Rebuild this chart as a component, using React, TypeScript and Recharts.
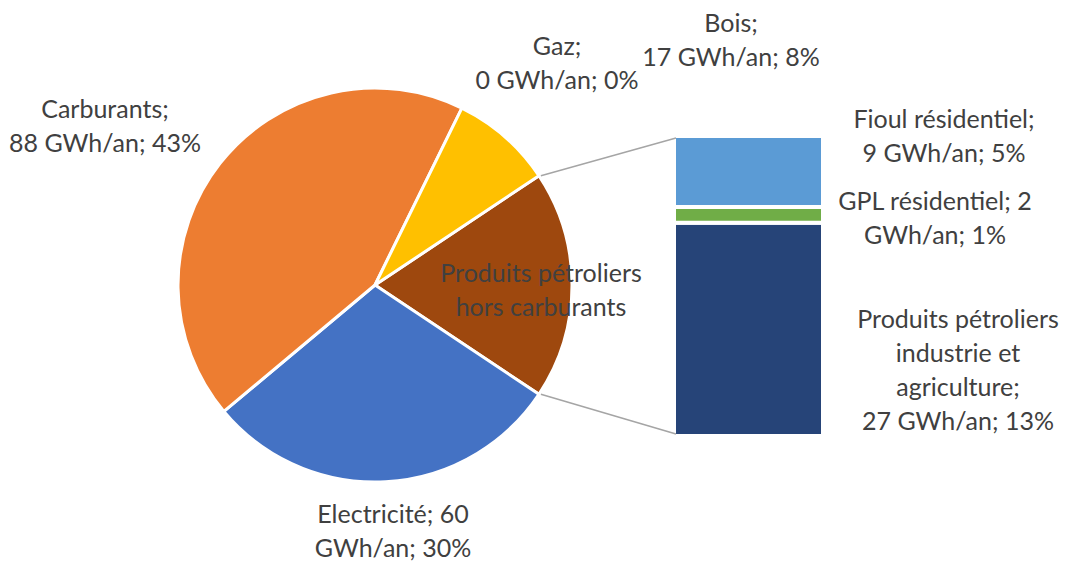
import { PieChart, Pie, Cell, BarChart, Bar, XAxis, YAxis } from 'recharts';

const W = 1079;
const H = 565;

// camembert principal (GWh/an)
const pieNames = ['Produits pétroliers hors carburants', 'Electricité', 'Carburants', 'Gaz', 'Bois'];
const pieValues = [38, 60, 88, 0, 17];
const pieColors = ['#9E480E', '#4472C4', '#ED7D31', '#A5A5A5', '#FFC000'];

// détail de la barre (bas -> haut)
const barKeys = ['industrie', 'gpl', 'fioul'];
const barValues = [27, 2, 9];
const barColors = ['#264478', '#70AD47', '#5B9BD5'];

const pieData = pieNames.map((name, i) => ({ name, value: pieValues[i] }));
const barRow: Record<string, number | string> = { name: 'detail' };
barKeys.forEach((k, i) => (barRow[k] = barValues[i]));
const barData = [barRow];

const total = pieValues.reduce((a, b) => a + b, 0);
const halfAngle = (pieValues[0] / total) * 180;

const CX = 375;
const CY = 285;
const R = 197;

const BAR_LEFT = 676;
const BAR_RIGHT = 821;
const BAR_TOP = 138;
const BAR_BOTTOM = 434;
const GAP = 4;

const font = 'Lato, "Noto Sans", sans-serif';
const textColor = '#404040';

const labels: { x: number; y: number; lines: string[] }[] = [
  { x: 105, y: 108, lines: ['Carburants;', '88 GWh/an; 43%'] },
  { x: 557, y: 45, lines: ['Gaz;', '0 GWh/an; 0%'] },
  { x: 731, y: 22, lines: ['Bois;', '17 GWh/an; 8%'] },
  { x: 944, y: 118, lines: ['Fioul résidentiel;', '9 GWh/an; 5%'] },
  { x: 935, y: 200, lines: ['GPL résidentiel; 2', 'GWh/an; 1%'] },
  { x: 958, y: 318, lines: ['Produits pétroliers', 'industrie et', 'agriculture;', '27 GWh/an; 13%'] },
  { x: 393, y: 513, lines: ['Electricité; 60', 'GWh/an; 30%'] },
  { x: 541, y: 272, lines: ['Produits pétroliers', 'hors carburants'] },
];

export default function App() {
  const rad = (halfAngle * Math.PI) / 180;
  const ex = CX + R * Math.cos(rad);
  const eyTop = CY - R * Math.sin(rad);
  const eyBot = CY + R * Math.sin(rad);

  return (
    <div style={{ position: 'absolute', left: 0, top: 0, width: W, height: H, background: '#fff' }}>
      <div style={{ position: 'absolute', left: 0, top: 0 }}>
        <PieChart width={W} height={H} margin={{ top: 0, right: 0, bottom: 0, left: 0 }}>
          <Pie
            data={pieData}
            dataKey="value"
            nameKey="name"
            cx={CX}
            cy={CY}
            outerRadius={R}
            startAngle={halfAngle}
            endAngle={halfAngle - 360}
            stroke="#ffffff"
            strokeWidth={3}
            isAnimationActive={false}
          >
            {pieData.map((d, i) => (
              <Cell key={d.name} fill={pieColors[i]} />
            ))}
          </Pie>
        </PieChart>
      </div>
      <div style={{ position: 'absolute', left: 0, top: 0 }}>
        <BarChart
          width={W}
          height={H}
          data={barData}
          barCategoryGap={0}
          margin={{
            top: BAR_TOP - GAP / 2,
            bottom: H - BAR_BOTTOM - GAP / 2,
            left: BAR_LEFT - GAP / 2,
            right: W - BAR_RIGHT - GAP / 2,
          }}
        >
          <XAxis dataKey="name" hide />
          <YAxis hide domain={[0, 38]} />
          {barKeys.map((k, i) => (
            <Bar
              key={k}
              dataKey={k}
              stackId="a"
              fill={barColors[i]}
              stroke="#ffffff"
              strokeWidth={GAP}
              isAnimationActive={false}
            />
          ))}
        </BarChart>
      </div>
      <svg width={W} height={H} style={{ position: 'absolute', left: 0, top: 0, pointerEvents: 'none' }}>
        <line x1={ex + 2} y1={eyTop} x2={BAR_LEFT} y2={BAR_TOP} stroke="#A5A5A5" strokeWidth={1.5} />
        <line x1={ex + 2} y1={eyBot} x2={BAR_LEFT} y2={BAR_BOTTOM} stroke="#A5A5A5" strokeWidth={1.5} />
        {labels.map((l, i) => (
          <text
            key={i}
            x={l.x}
            y={l.y}
            textAnchor="middle"
            dominantBaseline="central"
            fontFamily={font}
            fontSize={25}
            fill={textColor}
          >
            {l.lines.map((line, j) => (
              <tspan key={j} x={l.x} dy={j === 0 ? 0 : 34}>
                {line}
              </tspan>
            ))}
          </text>
        ))}
      </svg>
    </div>
  );
}
